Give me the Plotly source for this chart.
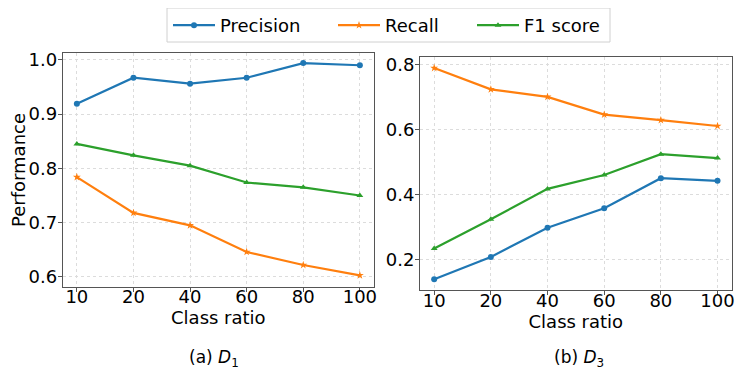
import plotly.graph_objects as go

ratios = ["10", "20", "40", "60", "80", "100"]

# (a) D1
prec_d1 = [0.919, 0.967, 0.956, 0.967, 0.994, 0.990]
rec_d1 = [0.784, 0.718, 0.695, 0.646, 0.622, 0.603]
f1_d1 = [0.845, 0.824, 0.805, 0.774, 0.765, 0.750]

# (b) D3
prec_d3 = [0.138, 0.207, 0.297, 0.357, 0.450, 0.442]
rec_d3 = [0.790, 0.724, 0.701, 0.646, 0.629, 0.611]
f1_d3 = [0.233, 0.323, 0.417, 0.460, 0.524, 0.512]

colors = {"Precision": "#1f77b4", "Recall": "#ff7f0e", "F1 score": "#2ca02c"}
symbols = {"Precision": "circle", "Recall": "star", "F1 score": "triangle-up"}
FONT = "DejaVu Sans"

# page has an 8px body margin, so the figure is a bit smaller and
# positions are given in page pixels then converted
W, H, OFF = 739, 366, 8
def fx(p):
    return (p - OFF) / W
def fy(p):
    return 1 - (p - OFF) / H

fig = go.Figure()

series = [
    ("Precision", prec_d1, prec_d3, "legend", 168),
    ("Recall", rec_d1, rec_d3, "legend2", 333),
    ("F1 score", f1_d1, f1_d3, "legend3", 472),
]
for name, a, b, leg, _ in series:
    fig.add_trace(go.Scatter(x=ratios, y=a, name=name, mode="lines+markers",
                             line=dict(color=colors[name], width=2.2),
                             marker=dict(symbol=symbols[name], size=6, color=colors[name]),
                             xaxis="x", yaxis="y", legend=leg))
    fig.add_trace(go.Scatter(x=ratios, y=b, name=name, mode="lines+markers",
                             line=dict(color=colors[name], width=2.2),
                             marker=dict(symbol=symbols[name], size=6, color=colors[name]),
                             xaxis="x2", yaxis="y2", showlegend=False))

ax_common = dict(showline=True, linecolor="#555", linewidth=1, mirror=True,
                 showgrid=True, gridcolor="#dcdcdc", griddash="dot", gridwidth=1,
                 ticks="outside", ticklen=4, tickcolor="#555", zeroline=False,
                 tickfont=dict(family=FONT, size=18, color="black"))

fig.update_layout(
    width=W, height=H,
    margin=dict(l=0, r=0, t=0, b=0, autoexpand=False),
    paper_bgcolor="white", plot_bgcolor="white",
    font=dict(family=FONT, color="black"),
    xaxis=dict(domain=[fx(62.7), fx(374)], anchor="y", type="category", range=[-0.25, 5.25],
               ticklabelstandoff=-10,
               title=dict(text="Class ratio", font=dict(size=18), standoff=0), **ax_common),
    yaxis=dict(domain=[fy(286.7), fy(53.3)], anchor="x", range=[0.582, 1.012], dtick=0.1,
               tickformat=".1f", ticklabelstandoff=-3,
               title=dict(text="Performance", font=dict(size=18), standoff=6), **ax_common),
    xaxis2=dict(domain=[fx(420), fx(731.7)], anchor="y2", type="category", range=[-0.25, 5.25],
                ticklabelstandoff=-10,
                title=dict(text="Class ratio", font=dict(size=18), standoff=0), **ax_common),
    yaxis2=dict(domain=[fy(290), fy(57.3)], anchor="x2", range=[0.105, 0.823], dtick=0.2,
                tickformat=".1f", ticklabelstandoff=-3, **ax_common),
    annotations=[
        dict(text="(a) <i>D</i><sub>1</sub>", x=fx(214), y=fy(345), xref="paper", yref="paper",
             xanchor="center", yanchor="top", showarrow=False, font=dict(size=17)),
        dict(text="(b) <i>D</i><sub>3</sub>", x=fx(579), y=fy(345), xref="paper", yref="paper",
             xanchor="center", yanchor="top", showarrow=False, font=dict(size=17)),
    ],
    # legend frame
    shapes=[dict(type="rect", xref="paper", yref="paper",
                 x0=fx(167), x1=fx(610), y0=fy(42), y1=fy(8),
                 line=dict(color="#d0d0d0", width=1), fillcolor="white", layer="below")],
)

# one legend per entry so the spacing can follow the reference
for name, _, _, leg, left in series:
    fig.update_layout({leg: dict(orientation="h", x=fx(left), y=fy(7), xanchor="left",
                                 yanchor="top", bgcolor="rgba(0,0,0,0)", borderwidth=0,
                                 font=dict(family=FONT, size=18), itemwidth=42)})

fig.write_html("out.html")
